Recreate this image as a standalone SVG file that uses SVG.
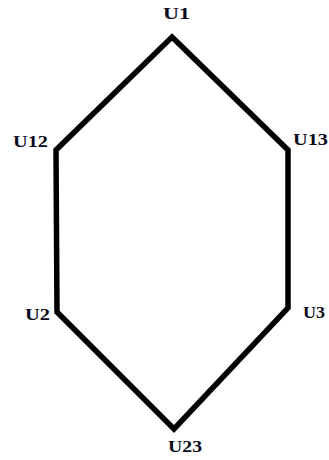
<svg xmlns="http://www.w3.org/2000/svg" width="329" height="460" viewBox="0 0 329 460">
<style>
.edge{fill:none;stroke:#000;stroke-width:5.5;stroke-linejoin:miter}
.lbl{font-family:'Liberation Serif','DejaVu Serif',serif;font-weight:bold;font-size:17px;fill:#0a0a1a}
</style>
<rect width="329" height="460" fill="#fff"/>
<g id="connectors">
<polygon class="edge" points="172,37 288,150 288,308 174,429 57,312 56,150"/>
</g>
<g id="U1"><text class="lbl" x="163" y="19" textLength="27" lengthAdjust="spacingAndGlyphs">U1</text></g>
<g id="U12"><text class="lbl" x="13" y="147" textLength="35" lengthAdjust="spacingAndGlyphs">U12</text></g>
<g id="U13"><text class="lbl" x="293" y="145" textLength="35" lengthAdjust="spacingAndGlyphs">U13</text></g>
<g id="U2"><text class="lbl" x="25" y="320" textLength="25" lengthAdjust="spacingAndGlyphs">U2</text></g>
<g id="U3"><text class="lbl" x="303" y="318" textLength="22" lengthAdjust="spacingAndGlyphs">U3</text></g>
<g id="U23"><text class="lbl" x="168" y="452" textLength="34" lengthAdjust="spacingAndGlyphs">U23</text></g>
</svg>
